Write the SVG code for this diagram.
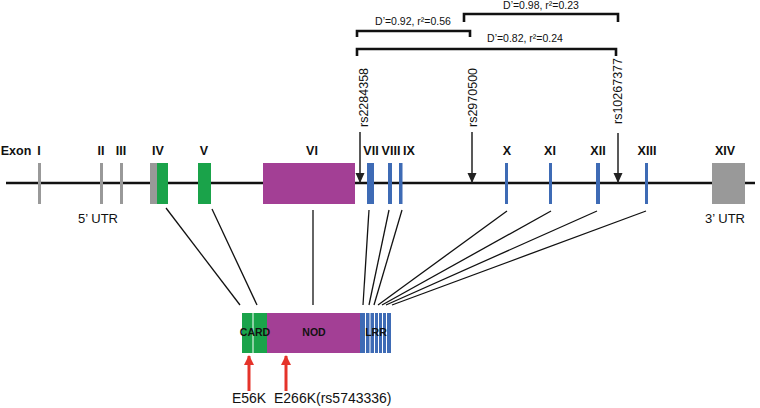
<svg xmlns="http://www.w3.org/2000/svg" width="760" height="408" viewBox="0 0 760 408">
<defs>
<style>
text{font-family:"Liberation Sans",Arial,sans-serif;fill:#111}
.ex{font-size:12.5px;font-weight:bold;text-anchor:middle}
.utr{font-size:13px;text-anchor:middle}
.snp{font-size:12.5px}
.ld{font-size:10.5px;text-anchor:middle}
.dom{font-size:10.5px;font-weight:bold;text-anchor:middle}
.mut{font-size:14px}
.conn line{stroke:#111;stroke-width:1.3}
.brk{fill:none;stroke:#111;stroke-width:2.6}
.snpl{stroke:#222;stroke-width:1.5;marker-end:url(#ah)}
.red{stroke:#e5332a;stroke-width:3;marker-end:url(#rh)}
.g{fill:#999}
.gr{fill:#1aa34a}
.m{fill:#a33f95}
.b{fill:#3e6bb5}
.div{stroke:#fff;stroke-width:1}
</style>
<marker id="ah" markerUnits="userSpaceOnUse" markerWidth="10" markerHeight="10" viewBox="0 0 10 10" refX="10" refY="5" orient="auto">
<path d="M0,0.5 L10,5 L0,9.5 Z" fill="#222"/>
</marker>
<marker id="rh" markerUnits="userSpaceOnUse" markerWidth="10" markerHeight="10" viewBox="0 0 10 10" refX="9" refY="5" orient="auto">
<path d="M0,0 L10,5 L0,10 Z" fill="#e5332a"/>
</marker>
</defs>

<g id="ld-brackets">
<path class="brk" d="M357,37 V31 H470 V37"/>
<path class="brk" d="M464,22 V14 H618 V22"/>
<path class="brk" d="M357,56 V49 H616 V56"/>
<text class="ld" x="541" y="8.5">D’=0.98, r²=0.23</text>
<text class="ld" x="413" y="24.5">D’=0.92, r²=0.56</text>
<text class="ld" x="525" y="41.5">D’=0.82, r²=0.24</text>
</g>

<g id="gene-line">
<line x1="6" y1="183" x2="755" y2="183" stroke="#111" stroke-width="2.5"/>
</g>

<g id="exon-labels">
<text class="ex" x="16" y="155">Exon</text>
<text class="ex" x="39" y="155">I</text>
<text class="ex" x="101" y="155">II</text>
<text class="ex" x="121" y="155">III</text>
<text class="ex" x="158" y="155">IV</text>
<text class="ex" x="204" y="155">V</text>
<text class="ex" x="312" y="155">VI</text>
<text class="ex" x="371" y="155">VII</text>
<text class="ex" x="391" y="155">VIII</text>
<text class="ex" x="409" y="155">IX</text>
<text class="ex" x="507" y="155">X</text>
<text class="ex" x="550" y="155">XI</text>
<text class="ex" x="598" y="155">XII</text>
<text class="ex" x="647" y="155">XIII</text>
<text class="ex" x="725" y="155">XIV</text>
<text class="utr" x="98" y="223">5’ UTR</text>
<text class="utr" x="725" y="223">3’ UTR</text>
</g>

<g id="exon-I"><rect class="g" x="38" y="163" width="3" height="41"/></g>
<g id="exon-II"><rect class="g" x="100" y="163" width="3" height="41"/></g>
<g id="exon-III"><rect class="g" x="120" y="163" width="3" height="41"/></g>
<g id="exon-IV"><rect class="g" x="150" y="163" width="7" height="41"/><rect class="gr" x="157" y="163" width="11" height="41"/></g>
<g id="exon-V"><rect class="gr" x="198" y="163" width="13" height="41"/></g>
<g id="exon-VI"><rect class="m" x="263" y="163" width="92" height="41"/></g>
<g id="exon-VII"><rect class="b" x="367" y="163" width="7" height="41"/></g>
<g id="exon-VIII"><rect class="b" x="388" y="163" width="4" height="41"/></g>
<g id="exon-IX"><rect class="b" x="399" y="163" width="3.5" height="41"/></g>
<g id="exon-X"><rect class="b" x="505" y="163" width="3" height="41"/></g>
<g id="exon-XI"><rect class="b" x="549" y="163" width="3" height="41"/></g>
<g id="exon-XII"><rect class="b" x="596" y="163" width="4" height="41"/></g>
<g id="exon-XIII"><rect class="b" x="645" y="163" width="3" height="41"/></g>
<g id="exon-XIV"><rect class="g" x="712" y="163" width="33" height="41"/></g>

<g id="snp-rs2284358">
<line class="snpl" x1="360" y1="132" x2="360" y2="183"/>
<text class="snp" transform="translate(368,127) rotate(-90)">rs2284358</text>
</g>
<g id="snp-rs2970500">
<line class="snpl" x1="472" y1="132" x2="472" y2="183"/>
<text class="snp" transform="translate(477,127) rotate(-90)">rs2970500</text>
</g>
<g id="snp-rs10267377">
<line class="snpl" x1="618" y1="133" x2="618" y2="183"/>
<text class="snp" transform="translate(622,124) rotate(-90)">rs10267377</text>
</g>

<g id="connectors" class="conn">
<line x1="166" y1="208" x2="240" y2="305"/>
<line x1="212" y1="209" x2="257" y2="305"/>
<line x1="313" y1="210" x2="313" y2="305"/>
<line x1="369" y1="210" x2="363" y2="305"/>
<line x1="389" y1="210" x2="369" y2="305"/>
<line x1="402" y1="210" x2="374" y2="305"/>
<line x1="507" y1="211" x2="378" y2="305"/>
<line x1="551" y1="211" x2="382" y2="305"/>
<line x1="597" y1="211" x2="386" y2="305"/>
<line x1="646" y1="211" x2="392" y2="305"/>
</g>

<g id="protein">
<rect class="gr" x="242" y="313" width="25" height="40"/>
<rect class="m" x="267" y="313" width="93" height="40"/>
<rect class="b" x="360" y="313" width="31" height="40"/>
<line class="div" x1="253" y1="313" x2="253" y2="353"/>
<line class="div" x1="365.5" y1="313" x2="365.5" y2="353"/>
<line class="div" x1="370" y1="313" x2="370" y2="353"/>
<line class="div" x1="374.5" y1="313" x2="374.5" y2="353"/>
<line class="div" x1="378.5" y1="313" x2="378.5" y2="353"/>
<line class="div" x1="382.5" y1="313" x2="382.5" y2="353"/>
<line class="div" x1="386.5" y1="313" x2="386.5" y2="353"/>
<text class="dom" x="255" y="336">CARD</text>
<text class="dom" x="314" y="336">NOD</text>
<text class="dom" x="376" y="336">LRR</text>
</g>

<g id="mut-E56K">
<line class="red" x1="249" y1="391" x2="249" y2="356"/>
<text class="mut" x="249" y="403" text-anchor="middle">E56K</text>
</g>
<g id="mut-E266K">
<line class="red" x1="286" y1="391" x2="286" y2="356"/>
<text class="mut" x="274" y="403">E266K(rs5743336)</text>
</g>
</svg>
